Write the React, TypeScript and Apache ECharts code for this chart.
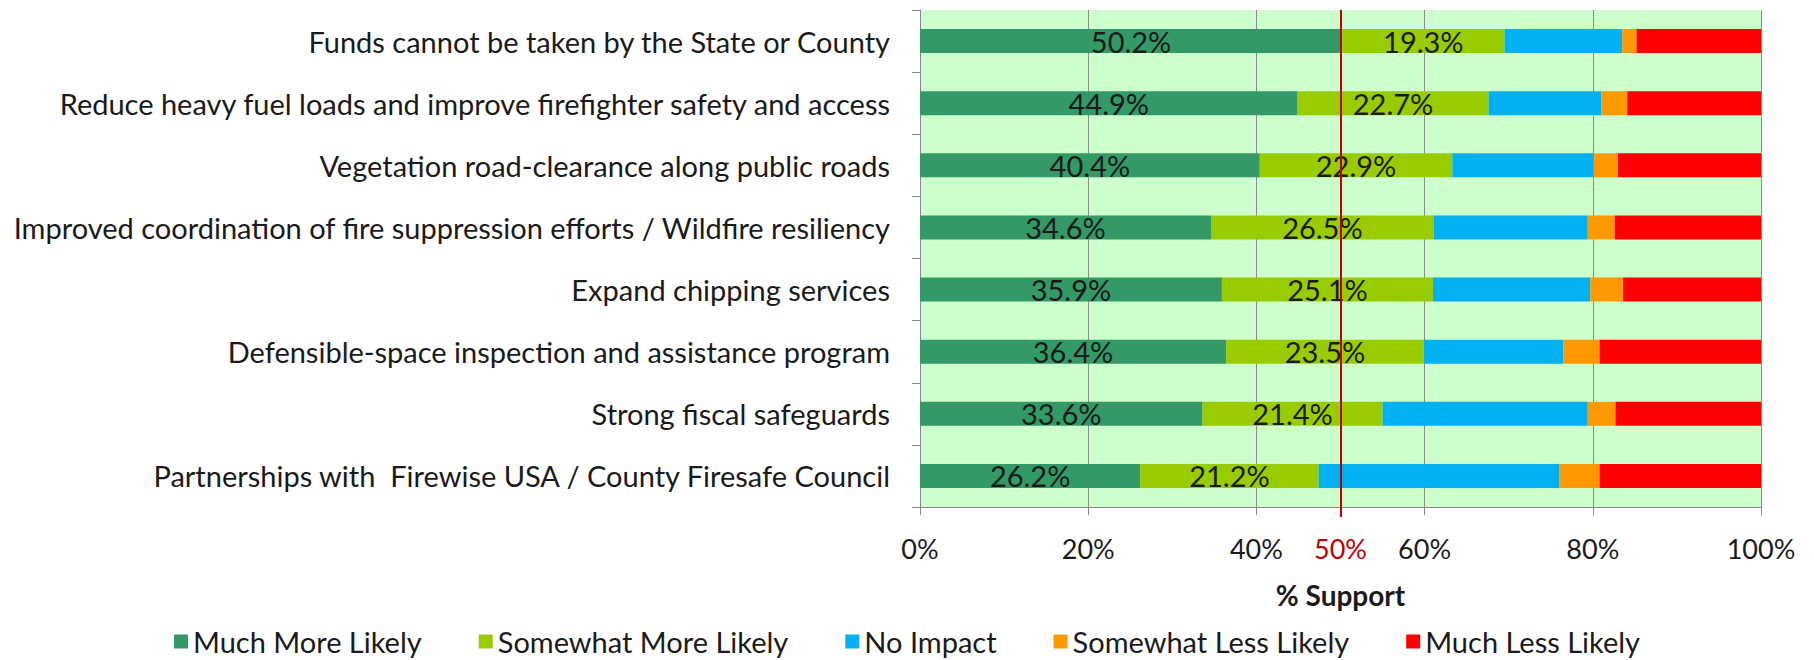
import React, { useEffect, useRef } from "react";
import * as echarts from "echarts";

const categories = [
  "Funds cannot be taken by the State or County",
  "Reduce heavy fuel loads and improve firefighter safety and access",
  "Vegetation road-clearance along public roads",
  "Improved coordination of fire suppression efforts / Wildfire resiliency",
  "Expand chipping services",
  "Defensible-space inspection and assistance program",
  "Strong fiscal safeguards",
  "Partnerships with  Firewise USA / County Firesafe Council",
];

const seriesNames = [
  "Much More Likely",
  "Somewhat More Likely",
  "No Impact",
  "Somewhat Less Likely",
  "Much Less Likely",
];

const muchMore = [50.2, 44.9, 40.4, 34.6, 35.9, 36.4, 33.6, 26.2];
const somewhatMore = [19.3, 22.7, 22.9, 26.5, 25.1, 23.5, 21.4, 21.2];
const noImpact = [14.0, 13.4, 16.8, 18.3, 18.7, 16.6, 24.4, 28.6];
const somewhatLess = [1.7, 3.1, 2.9, 3.2, 3.9, 4.3, 3.3, 4.8];
const muchLess = [14.8, 15.9, 17.0, 17.4, 16.4, 19.2, 17.3, 19.2];

const xTicks = [0, 20, 40, 60, 80, 100];
const thresholdValue = 50;

const colors = ["#339966", "#99cc00", "#00b0f0", "#ff9900", "#ff0000"];

const FONT = "Lato";

export default function App() {
  const ref = useRef<HTMLDivElement>(null);

  useEffect(() => {
    document.body.style.margin = "0";
    if (!ref.current) return;
    const chart = echarts.init(ref.current, undefined, { renderer: "svg" });
    const values = [muchMore, somewhatMore, noImpact, somewhatLess, muchLess];

    const series: any[] = values.map((data, i) => ({
      name: seriesNames[i],
      type: "bar",
      stack: "total",
      data,
      barWidth: 24,
      itemStyle: { color: colors[i] },
      label: {
        show: i < 2,
        position: "inside",
        color: "#1a1a1a",
        fontFamily: FONT,
        fontSize: 29,
        formatter: (p: any) => Number(p.value).toFixed(1) + "%",
      },
      emphasis: { disabled: true },
    }));
    series[0].markLine = {
      silent: true,
      symbol: "none",
      label: { show: false },
      lineStyle: { color: "#c00000", width: 2, type: "solid" },
      data: [{ xAxis: thresholdValue }],
    };

    chart.setOption({
      animation: false,
      textStyle: { fontFamily: FONT },
      grid: {
        left: 920,
        right: 53,
        top: 10,
        bottom: 153,
        containLabel: false,
        show: true,
        backgroundColor: "#ccffcc",
        borderWidth: 0,
      },
      legend: {
        top: 622,
        left: "center",
        itemWidth: 14,
        itemHeight: 14,
        itemGap: 57,
        icon: "rect",
        textStyle: { fontFamily: FONT, fontSize: 29, color: "#1a1a1a" },
        data: seriesNames,
      },
      xAxis: [
        {
          type: "value",
          min: 0,
          max: 100,
          interval: 20,
          name: "% Support",
          nameLocation: "middle",
          nameGap: 74,
          nameTextStyle: {
            fontFamily: FONT,
            fontSize: 28,
            fontWeight: "bold",
            color: "#1a1a1a",
          },
          axisLine: { show: true, lineStyle: { color: "#888888", width: 1 } },
          axisTick: { show: true, length: 8, lineStyle: { color: "#888888" } },
          axisLabel: {
            margin: 28,
            fontFamily: FONT,
            fontSize: 27,
            color: "#1a1a1a",
            formatter: (v: number) => (xTicks.includes(v) ? v + "%" : ""),
          },
          splitLine: { show: true, lineStyle: { color: "#8c8c8c", width: 1 } },
        },
        {
          type: "value",
          position: "bottom",
          min: 0,
          max: 100,
          interval: 50,
          axisLine: { show: false },
          axisTick: {
            show: true,
            length: 10,
            customValues: [thresholdValue],
            lineStyle: { color: "#c00000", width: 2 },
          },
          axisLabel: {
            margin: 28,
            fontFamily: FONT,
            fontSize: 27,
            color: "#c00000",
            customValues: [thresholdValue],
            formatter: (v: number) => (v === thresholdValue ? v + "%" : ""),
          },
          splitLine: { show: false },
        },
      ],
      yAxis: {
        type: "category",
        data: categories,
        inverse: true,
        axisLine: { show: true, lineStyle: { color: "#888888", width: 1 } },
        axisTick: { show: true, length: 8, lineStyle: { color: "#888888" } },
        axisLabel: {
          margin: 30,
          fontFamily: FONT,
          fontSize: 29,
          color: "#1a1a1a",
        },
        splitLine: { show: false },
      },
      series,
    });

    return () => chart.dispose();
  }, []);

  return <div ref={ref} style={{ width: 1814, height: 660 }} />;
}
